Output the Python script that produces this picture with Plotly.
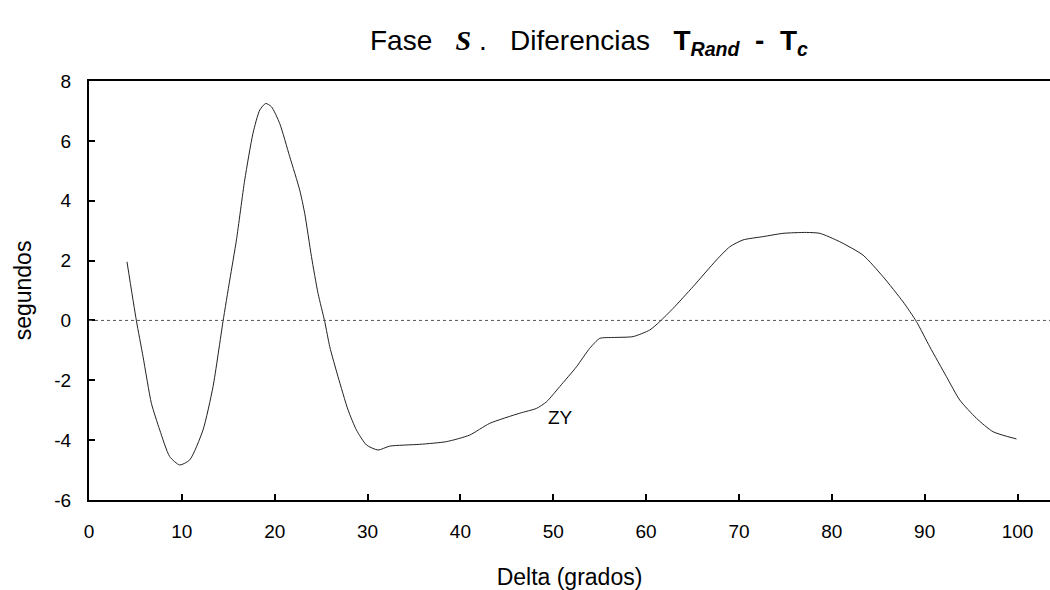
import plotly.graph_objects as go

delta = [4.09, 5.1, 5.82, 6.72, 7.62, 8.69, 9.77, 10.85, 12.28, 13.36, 14.43, 15.16, 15.88,
         16.77, 17.66, 18.39, 19.03, 19.65, 20.54, 21.62, 22.69, 23.23, 23.96, 24.67, 25.39,
         25.93, 26.82, 27.9, 28.8, 29.88, 31.13, 32.39, 35.62, 38.5, 41.0, 43.15,
         46.39, 48.19, 49.27, 50.7, 52.5, 53.93, 55.01, 56.44, 58.6, 60.39, 61.47, 62.9,
         65.06, 67.58, 69.01, 70.44, 72.6, 74.75, 77.27, 78.71, 80.86, 83.37, 85.52, 87.68,
         89.12, 90.55, 92.35, 93.78, 95.58, 97.37, 99.89]
segundos = [1.96, 0.0, -1.21, -2.77, -3.66, -4.55, -4.83, -4.66, -3.66, -2.21, -0.04, 1.35, 2.69,
            4.69, 6.25, 7.03, 7.25, 7.14, 6.58, 5.47, 4.36, 3.58, 2.13, 0.9, -0.04,
            -0.88, -1.88, -2.99, -3.66, -4.16, -4.33, -4.2, -4.14, -4.05, -3.83, -3.44,
            -3.1, -2.94, -2.72, -2.21, -1.55, -0.93, -0.6, -0.57, -0.54, -0.32, -0.04, 0.4,
            1.13, 2.02, 2.46, 2.69, 2.8, 2.91, 2.94, 2.91, 2.63, 2.18, 1.46, 0.62,
            -0.04, -0.88, -1.88, -2.66, -3.27, -3.72, -3.96]

x_ticks = [0, 10, 20, 30, 40, 50, 60, 70, 80, 90, 100]
x_labels = ["0", "10", "20", "30", "40", "50", "60", "70", "80", "90", "100"]
y_ticks = [-6, -4, -2, 0, 2, 4, 6, 8]
y_labels = ["-6", "-4", "-2", "0", "2", "4", "6", "8"]

FONT = "Liberation Sans, Arial, sans-serif"

fig = go.Figure()
fig.add_trace(go.Scatter(
    x=delta, y=segundos, mode="lines",
    line=dict(color="#222222", width=1, shape="spline", smoothing=0.6),
    showlegend=False, hoverinfo="skip"))

fig.add_shape(type="line", xref="x", yref="y", x0=0, x1=104, y0=0, y1=0,
              line=dict(color="#555555", width=1, dash="dot"))

fig.add_annotation(x=50.8, y=-3.25, xref="x", yref="y", text="ZY", showarrow=False,
                   font=dict(family=FONT, size=19, color="black"))

title = ("Fase   <span style='font-family:Liberation Serif, serif'><b><i>S</i></b></span> .   "
         "Diferencias   <b>T<sub><i>Rand</i></sub>  -  T<sub><i>c</i></sub></b>")

fig.update_layout(
    width=1050, height=590,
    margin=dict(l=89, r=0, t=81, b=90),
    paper_bgcolor="white", plot_bgcolor="white",
    title=dict(text=title, x=589 / 1050, xanchor="center", y=1 - 40 / 590, yanchor="middle",
               font=dict(family=FONT, size=28, color="black")),
    xaxis=dict(range=[0, 103.5], tickmode="array", tickvals=x_ticks, ticktext=x_labels,
               ticks="inside", ticklen=6, tickwidth=2, tickcolor="black",
               showline=True, linewidth=2, linecolor="black", mirror=True,
               showgrid=False, zeroline=False, ticklabelstandoff=13,
               tickfont=dict(family=FONT, size=19, color="black"),
               title=dict(text="Delta (grados)", font=dict(family=FONT, size=23, color="black"),
                          standoff=30)),
    yaxis=dict(range=[-6, 8], tickmode="array", tickvals=y_ticks, ticktext=y_labels,
               ticks="inside", ticklen=6, tickwidth=2, tickcolor="black",
               showline=True, linewidth=2, linecolor="black",
               showgrid=False, zeroline=False, ticklabelstandoff=12,
               tickfont=dict(family=FONT, size=19, color="black"),
               title=dict(text="segundos", font=dict(family=FONT, size=23, color="black"),
                          standoff=16)),
)

fig.write_html("out.html")
